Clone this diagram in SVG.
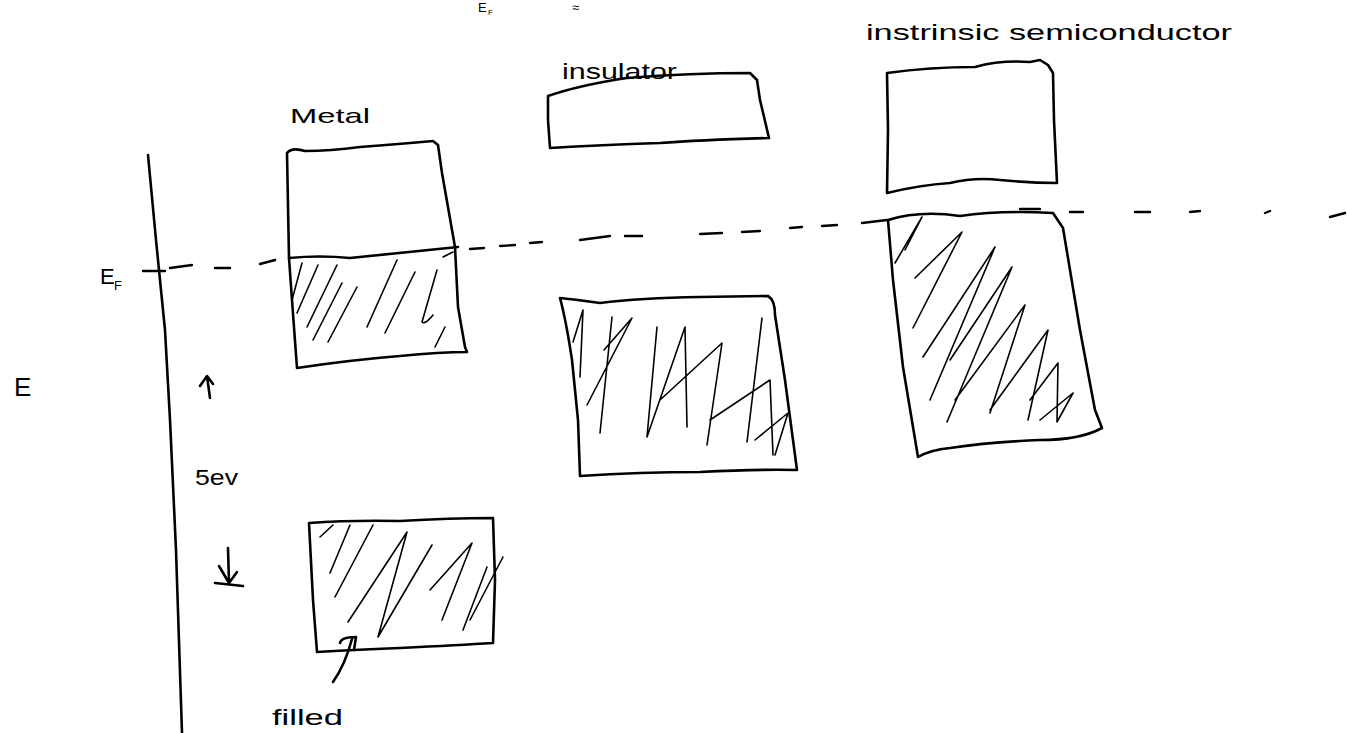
<svg xmlns="http://www.w3.org/2000/svg" width="1347" height="733" viewBox="0 0 1347 733">
<style>
.s{fill:none;stroke:#000;stroke-width:2.6;stroke-linecap:round;stroke-linejoin:round}
.h{fill:none;stroke:#000;stroke-width:1.6;stroke-linecap:round;stroke-linejoin:round}
.d{fill:none;stroke:#000;stroke-width:2.4;stroke-linecap:round}
.t{font-family:"Liberation Sans",Arial,sans-serif;fill:#000}
</style>
<rect width="1347" height="733" fill="#fff"/>
<g id="top-fragment">
<text class="t" x="478" y="12" font-size="13">E</text>
<text class="t" x="488" y="15" font-size="8">F</text>
<text class="t" x="572" y="12" font-size="13">≈</text>
</g>
<g id="axis">
<path class="s" d="M148 155 L156 240 L165 330 L170 420 L176 550 L182 733"/>
<text class="t" x="14" y="396" font-size="26">E</text>
</g>
<g id="fermi-label">
<text class="t" x="100" y="284" font-size="22">E</text>
<text class="t" x="114" y="290" font-size="13">F</text>
</g>
<g id="connectors">
<path class="d" d="M143 271 L165 271 M170 268 L192 265 M215 268 L230 268 M260 264 L275 260
M470 249 L484 248 M500 246 L515 245 M530 243 L542 242 M580 240 L610 236 M625 236 L642 236 M700 234 L722 233 M742 232 L760 231 M790 228 L802 227 M822 226 L837 225 M862 223 L887 220
M1020 209 L1040 209 M1070 212 L1083 212 M1135 212 L1150 212 M1190 212 L1200 211 M1265 213 L1270 211 M1330 217 L1345 213"/>
<path class="s" d="M200 386 L207 376 L213 384 M207 376 L210 398"/>
<path class="s" d="M228 548 L229 583 M219 566 L229 583 L237 572 M215 583 L243 586"/>
<path class="s" d="M333 682 Q345 665 352 639 M340 643 Q341 637 356 637 L354 650"/>
</g>
<text class="t" x="195" y="485" font-size="22" textLength="43" lengthAdjust="spacingAndGlyphs">5ev</text>
<g id="metal">
<text class="t" x="290" y="123" font-size="21" textLength="80" lengthAdjust="spacingAndGlyphs">Metal</text>
<path class="s" d="M287 153 Q292 147 305 151 Q330 151 360 147 Q400 144 433 141 L438 145 L442 173 L455 247 L458 307 L465 347 L467 352 Q440 352 400 356 Q350 360 297 368 L292 300 L289 258 Z"/>
<path class="s" d="M289 258 Q320 255 350 258 Q390 254 458 247"/>
<path class="h" d="M302 263 L292 300 M318 265 L297 313 M337 265 L307 327 M342 283 L313 340 M357 287 L328 342 M397 260 L367 327 M415 272 L385 333 M437 270 L422 322 Q425 325 433 315 M445 327 L435 347 M453 252 L443 257"/>
</g>
<g id="insulator">
<text class="t" x="562" y="79" font-size="22" textLength="115" lengthAdjust="spacingAndGlyphs">insulator</text>
<path class="s" d="M548 96 Q580 85 627 78 Q690 73 750 73 L757 80 L760 100 L769 138 Q700 140 660 143 Q600 145 550 148 L548 120 Z"/>
<path class="s" d="M560 298 Q580 300 600 303 Q640 298 700 297 L768 296 Q775 300 775 315 L785 380 L797 470 Q760 469 700 472 Q640 472 580 476 L578 420 L572 360 Q566 320 560 298 Z"/>
<path class="h" d="M573 342 L583 310 L580 377 M612 317 L600 433 M604 350 L632 318 L587 405 M657 327 L647 437 L685 327 L687 427 M660 400 L722 343 L707 445 M762 318 L747 442 M710 420 L770 380 L773 455 M755 440 L788 413 L775 455"/>
</g>
<g id="semiconductor">
<text class="t" x="866" y="40" font-size="22" textLength="366" lengthAdjust="spacingAndGlyphs">instrinsic  semiconductor</text>
<path class="s" d="M887 73 Q930 67 975 67 Q1000 60 1030 62 L1040 60 L1048 65 L1053 73 L1054 120 L1057 183 Q1030 183 1000 180 Q975 177 950 183 Q920 185 887 193 L888 130 Z"/>
<path class="s" d="M888 220 Q920 210 960 216 Q1000 210 1053 213 L1063 228 L1080 330 L1095 410 L1102 428 Q1080 440 1040 440 Q990 442 950 448 Q930 450 918 457 L903 367 L893 280 Z"/>
<path class="h" d="M895 263 L922 217 L905 250 M915 278 L962 232 L913 328 M923 357 L995 247 L930 400 M947 422 L1012 267 L950 360 M990 413 L1025 305 L955 400 M1028 420 L1048 330 L990 410 M1057 422 L1058 363 L1030 400 M1057 422 L1073 393 L1040 420"/>
</g>
<g id="filled">
<path class="s" d="M309 523 Q350 520 400 521 Q450 518 493 518 L495 580 L493 643 Q460 645 400 648 Q350 650 317 652 L313 600 Z"/>
<path class="h" d="M320 537 L333 525 M330 573 L350 525 M335 597 L373 525 M348 622 L407 532 L378 637 L432 545 M442 620 L472 543 L430 590 M463 630 L487 567 M470 620 L503 557"/>
<text class="t" x="272" y="725" font-size="22" textLength="71" lengthAdjust="spacingAndGlyphs">filled</text>
</g>
</svg>
